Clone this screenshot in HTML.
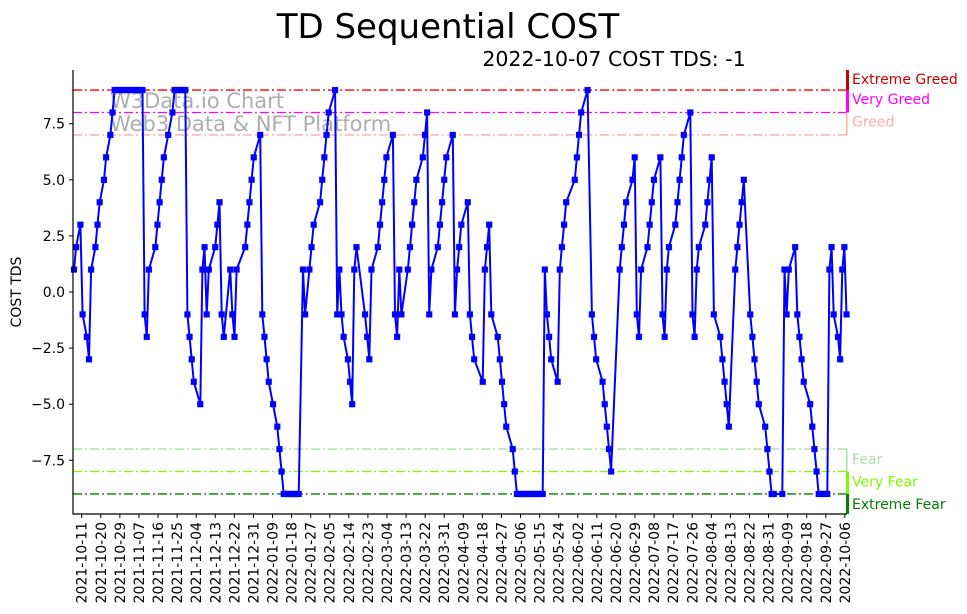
<!DOCTYPE html>
<html><head><meta charset="utf-8"><style>
html,body{margin:0;padding:0;background:#fff;}
svg{display:block;font-family:"DejaVu Sans","Liberation Sans",sans-serif;}
</style></head><body>
<svg id="chart" width="967" height="614" viewBox="0 0 967 614" xmlns="http://www.w3.org/2000/svg">
<text x="448" y="38" font-size="34" text-anchor="middle" fill="#000">TD Sequential COST</text>
<text x="614" y="66" font-size="20.5" text-anchor="middle" fill="#000">2022-10-07 COST TDS: -1</text>
<text transform="translate(21,292) rotate(-90)" font-size="14" text-anchor="middle" fill="#000">COST TDS</text>
<g id="bands"></g>
<text x="110" y="108" font-size="21" fill="#999" fill-opacity="0.8">W3Data.io Chart</text>
<text x="110" y="131" font-size="21" fill="#999" fill-opacity="0.8">Web3 Data &amp; NFT Platform</text>
<g id="series"></g>
<g id="axes"></g>
</svg>
<script>
const days=[0,1,3,4,6,7,8,10,11,12,14,15,17,18,19,20,21,22,23,24,25,26,27,28,29,30,31,32,33,34,35,38,39,40,41,42,44,46,47,48,49,50,51,52,53,54,55,56,59,60,61,62,63,66,67,68,69,70,73,74,75,76,80,81,82,83,84,87,88,89,90,91,93,95,96,97,98,99,100,101,102,103,104,105,107,108,110,111,112,115,116,117,118,119,122,123,124,125,126,128,129,130,131,132,136,137,138,139,142,143,144,145,146,149,150,151,152,153,156,157,158,159,160,163,164,165,166,167,170,171,172,173,174,177,178,179,180,181,184,185,186,187,191,192,193,194,195,198,199,200,201,202,205,206,207,208,209,210,211,212,213,214,215,216,217,218,219,220,221,222,223,226,227,228,229,230,234,235,236,237,240,242,243,244,247,248,249,250,251,255,256,257,258,261,262,263,264,265,268,269,270,271,274,275,276,277,278,281,282,283,284,285,288,289,290,291,292,295,296,297,298,299,302,303,304,305,306,309,310,311,312,313,316,317,318,319,320,323,324,325,326,327,331,332,333,334,337,338,339,340,341,344,345,346,347,348,349,350,351,352,353,354,355,357,358,359,360,361];
const values=[1,2,3,-1,-2,-3,1,2,3,4,5,6,7,8,9,9,9,9,9,9,9,9,9,9,9,9,9,9,-1,-2,1,2,3,4,5,6,7,8,9,9,9,9,9,9,-1,-2,-3,-4,-5,1,2,-1,1,2,3,4,-1,-2,1,-1,-2,1,2,3,4,5,6,7,-1,-2,-3,-4,-5,-6,-7,-8,-9,-9,-9,-9,-9,-9,-9,-9,1,-1,1,2,3,4,5,6,7,8,9,-1,1,-1,-2,-3,-4,-5,1,2,-1,-2,-3,1,2,3,4,5,6,7,-1,-2,1,-1,1,2,3,4,5,6,7,8,-1,1,2,3,4,5,6,7,-1,1,2,3,4,-1,-2,-3,-4,1,2,3,-1,-2,-3,-4,-5,-6,-7,-8,-9,-9,-9,-9,-9,-9,-9,-9,-9,-9,-9,-9,-9,1,-1,-2,-3,-4,1,2,3,4,5,6,7,8,9,-1,-2,-3,-4,-5,-6,-7,-8,1,2,3,4,5,6,-1,-2,1,2,3,4,5,6,-1,-2,1,2,3,4,5,6,7,8,-1,-2,1,2,3,4,5,6,-1,-2,-3,-4,-5,-6,1,2,3,4,5,-1,-2,-3,-4,-5,-6,-7,-8,-9,-9,-9,1,-1,1,2,-1,-2,-3,-4,-5,-6,-7,-8,-9,-9,-9,-9,-9,1,2,-1,-2,-3,1,2,-1];
const xTickLabels=["2021-10-11","2021-10-20","2021-10-29","2021-11-07","2021-11-16","2021-11-25","2021-12-04","2021-12-13","2021-12-22","2021-12-31","2022-01-09","2022-01-18","2022-01-27","2022-02-05","2022-02-14","2022-02-23","2022-03-04","2022-03-13","2022-03-22","2022-03-31","2022-04-09","2022-04-18","2022-04-27","2022-05-06","2022-05-15","2022-05-24","2022-06-02","2022-06-11","2022-06-20","2022-06-29","2022-07-08","2022-07-17","2022-07-26","2022-08-04","2022-08-13","2022-08-22","2022-08-31","2022-09-09","2022-09-18","2022-09-27","2022-10-06"];
const yTicks=[-7.5,-5,-2.5,0,2.5,5,7.5];
const yTickLabels=["\u22127.5","\u22125.0","\u22122.5","0.0","2.5","5.0","7.5"];
const bandLevels=[9,8,7,-7,-8,-9];
const bandNames=["Extreme Greed","Very Greed","Greed","Fear","Very Fear","Extreme Fear"];
const bandColors=["#ff0000","#ff00ff","#ffaaaa","#aaddaa","#7cfc00","#008000"];
const barColors=["#cc0000","#ff00ff","#ffaaaa","#aaddaa","#7cfc00","#008000"];

const NS="http://www.w3.org/2000/svg";
const L=73,R=847,T=70,B=514;
function xScale(d){return 74+d*2.14;}
function yScale(v){return 292-v*22.44;}
function mk(tag,attrs,parent){const e=document.createElementNS(NS,tag);for(const k in attrs)e.setAttribute(k,attrs[k]);parent.appendChild(e);return e;}

const bands=document.getElementById('bands');
bandLevels.forEach((lv,i)=>{
  const ln=mk('line',{x1:L,x2:R,y1:yScale(lv),y2:yScale(lv),stroke:bandColors[i],'stroke-width':1.3,'stroke-dasharray':'9,3,2,3'},bands);
  
  
});
const barY=[[T,yScale(9)],[yScale(9),yScale(8)],[yScale(8),yScale(7)],[yScale(-7),yScale(-8)],[yScale(-8),yScale(-9)],[yScale(-9),B]];
barY.forEach((r,i)=>{
  const b=mk('rect',{x:R-1,y:r[0],width:i==2||i==3?1.5:3,height:r[1]-r[0],fill:barColors[i]},bands);
  
  
  const t=mk('text',{x:852,y:(i<3?r[0]+14:r[0]+15),'font-size':14,fill:barColors[i]},bands);
  t.textContent=bandNames[i];
  
  
});

const series=document.getElementById('series');
let pts=days.map((d,i)=>xScale(d).toFixed(1)+','+yScale(values[i]).toFixed(1)).join(' ');
const pl=mk('polyline',{points:pts,fill:'none',stroke:'#0000ff','stroke-width':2,'stroke-linejoin':'round'},series);


days.forEach((d,i)=>{
  const m=mk('rect',{x:xScale(d)-3,y:yScale(values[i])-3,width:6,height:6,fill:'#0000ff',stroke:'#0000ff','stroke-width':0.5,'stroke-opacity':0.3},series);
  
  
});

const axes=document.getElementById('axes');
const ls=mk('line',{x1:L,x2:L,y1:T,y2:B+0.5,stroke:'#000','stroke-width':1.2},axes);


const bs=mk('line',{x1:L-0.5,x2:R,y1:B,y2:B,stroke:'#000','stroke-width':1.2},axes);


yTicks.forEach((v,i)=>{
  const y=yScale(v);
  mk('line',{x1:L-4,x2:L,y1:y,y2:y,stroke:'#000','stroke-width':1},axes);
  const t=mk('text',{x:L-8,y:y+5,'font-size':14,'text-anchor':'end',fill:'#000'},axes);
  t.textContent=yTickLabels[i];
  
  
});
xTickLabels.forEach((lab,i)=>{
  const x=81.7+i*19.08;
  mk('line',{x1:x,x2:x,y1:B,y2:B+4,stroke:'#000','stroke-width':1},axes);
  const t=mk('text',{transform:'translate('+(x+5)+','+(B+8)+') rotate(-90)','font-size':14,'text-anchor':'end',fill:'#000'},axes);
  t.textContent=lab;
  
  
});
</script>
</body></html>
